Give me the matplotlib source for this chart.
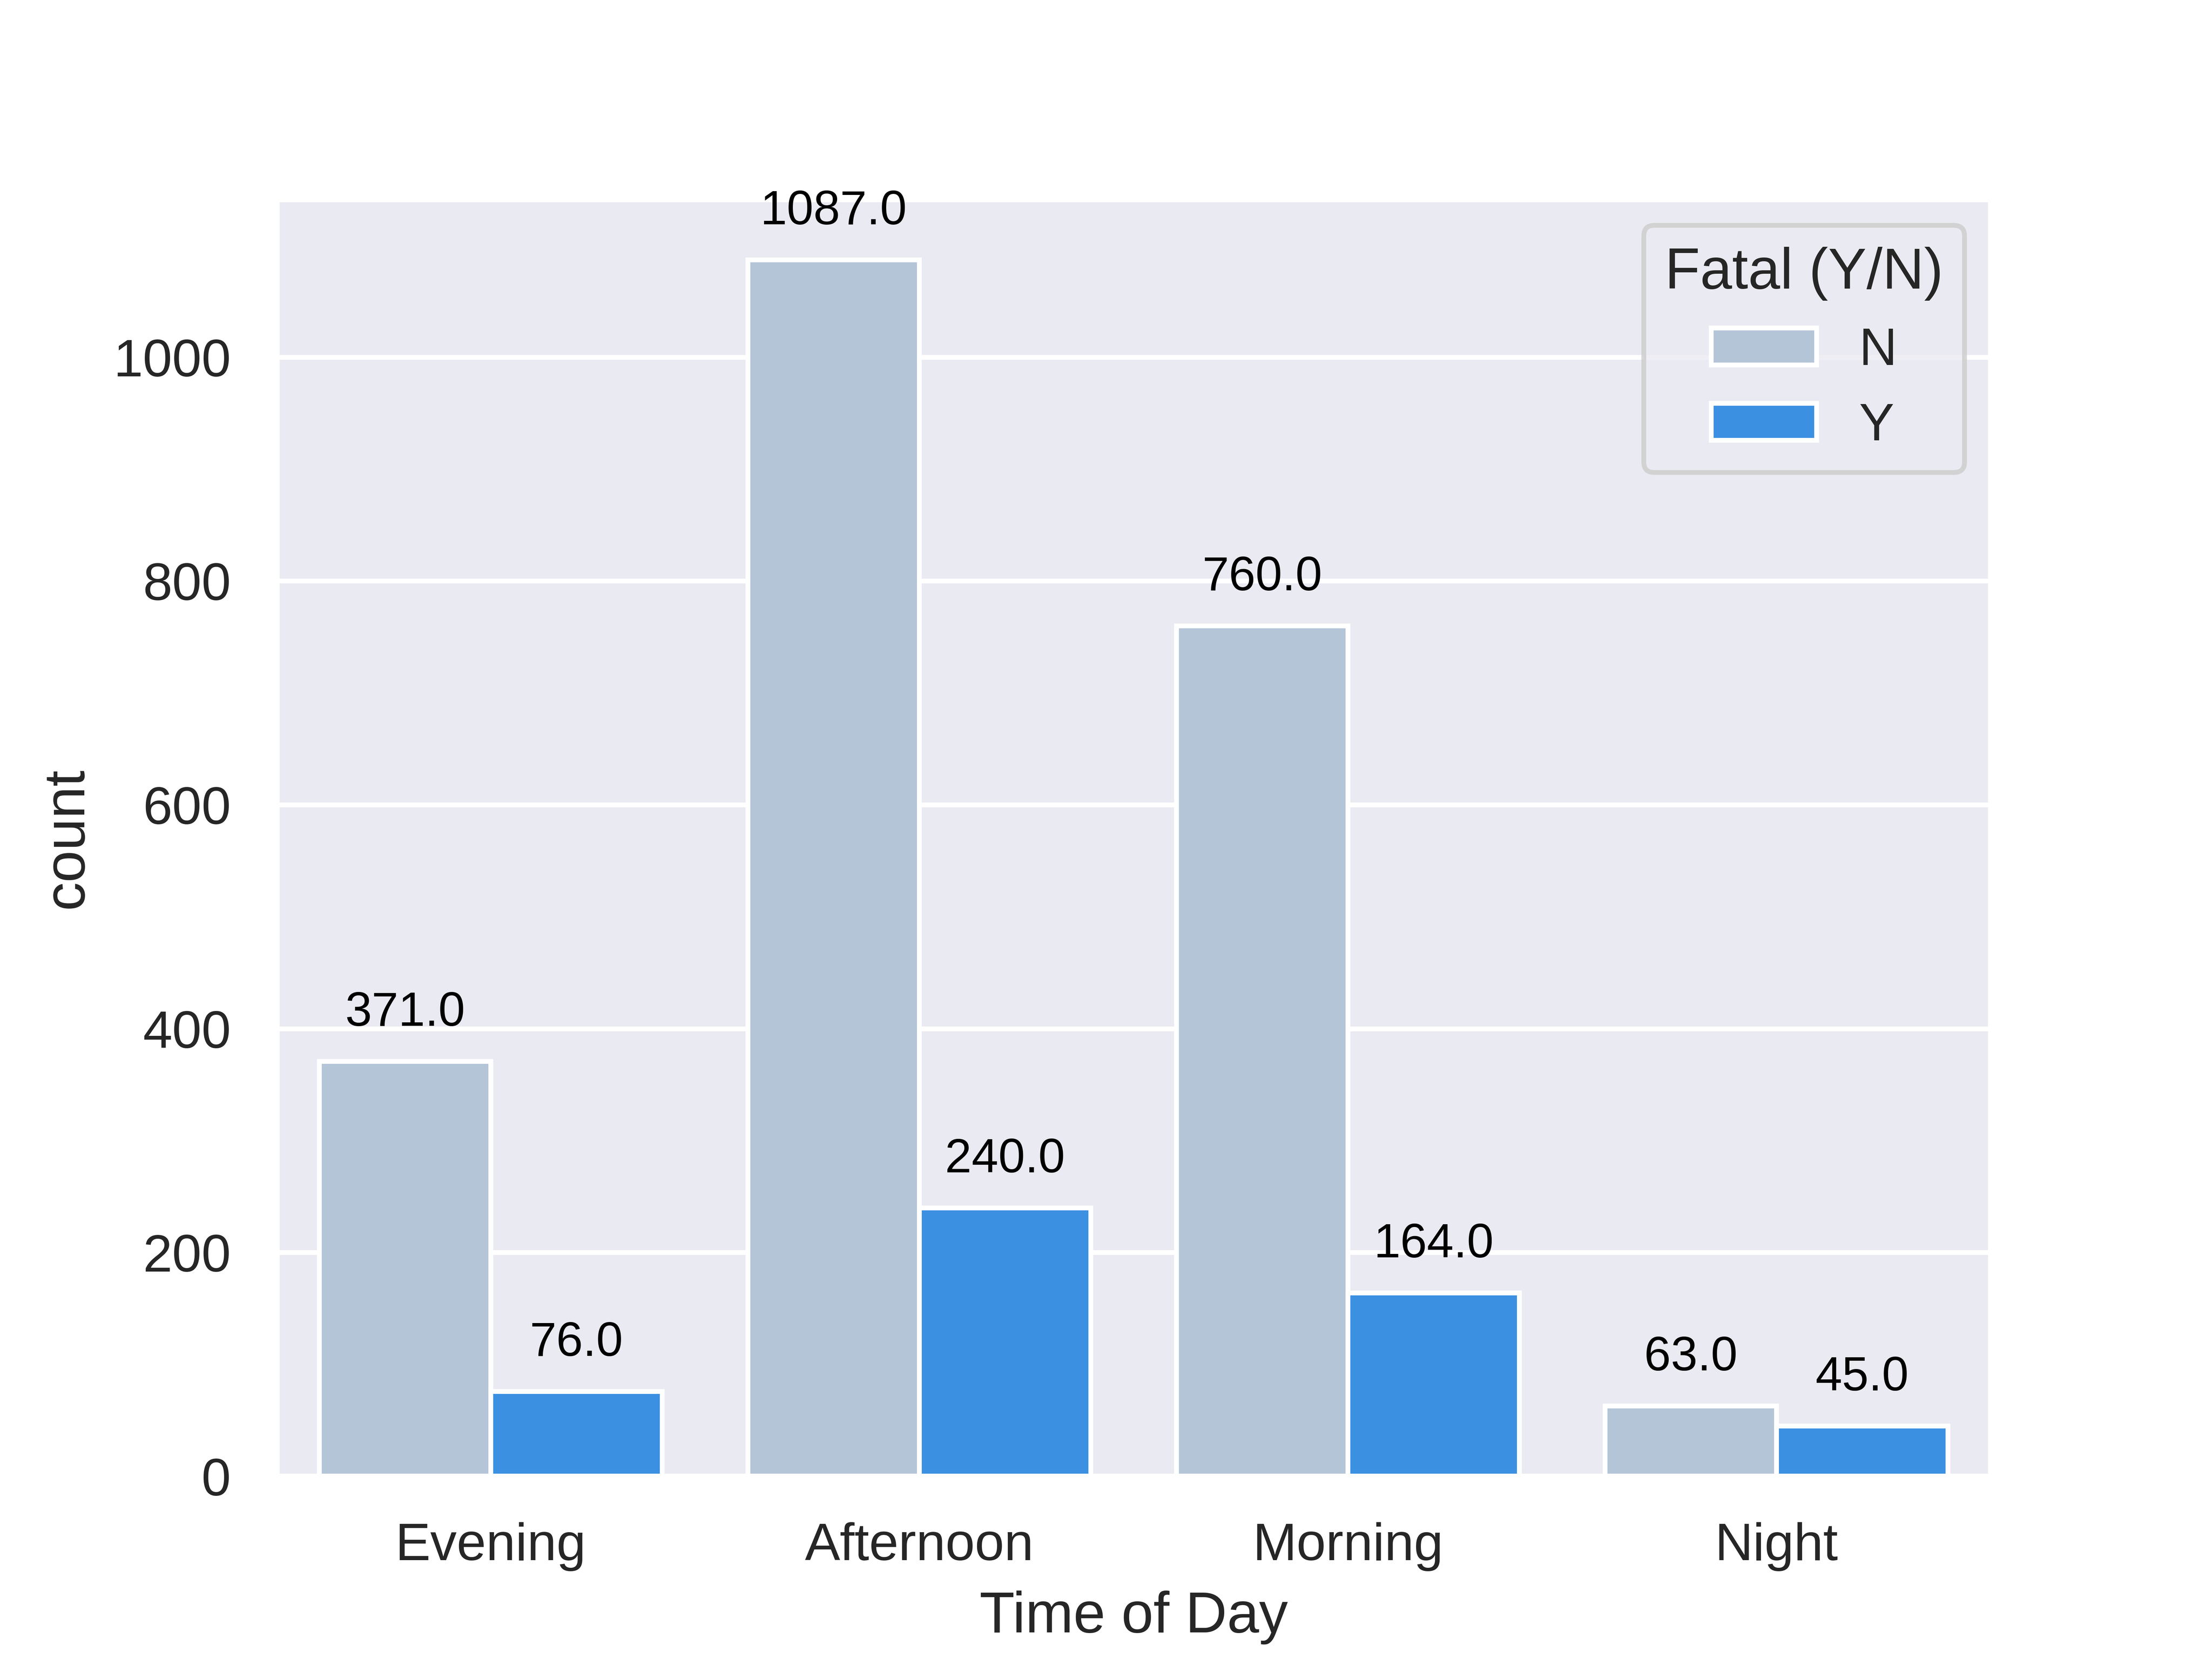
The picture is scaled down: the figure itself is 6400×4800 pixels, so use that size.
import matplotlib
matplotlib.use("Agg")
import matplotlib.pyplot as plt
import numpy as np
import seaborn as sns

times = ["Evening", "Afternoon", "Morning", "Night"]
fatal_n = [371, 1087, 760, 63]
fatal_y = [76, 240, 164, 45]
hue_labels = ["N", "Y"]

sns.set_theme(style="darkgrid", context="notebook")
plt.rcParams["font.family"] = ["Liberation Sans", "DejaVu Sans"]

fig, ax = plt.subplots(figsize=(6.4, 4.8))
x = np.arange(len(times))
w = 0.4
# seaborn-desaturated lightsteelblue / dodgerblue
bars_n = ax.bar(x - w / 2, fatal_n, w, color="#b5c5d8", edgecolor="white", linewidth=1, label=hue_labels[0])
bars_y = ax.bar(x + w / 2, fatal_y, w, color="#3c90e2", edgecolor="white", linewidth=1, label=hue_labels[1])

for p in list(bars_n) + list(bars_y):
    h = p.get_height()
    ax.annotate(f"{float(h):.1f}", (p.get_x() + p.get_width() / 2, h),
                xytext=(0, 10), textcoords="offset points",
                ha="center", va="center", fontsize=10, color="black")

ax.set_xticks(x)
ax.set_xticklabels(times)
ax.set_xlim(-0.5, len(times) - 0.5)
ax.xaxis.grid(False)
ax.set_xlabel("Time of Day")
ax.set_ylabel("count")
ax.legend(title="Fatal (Y/N)", loc="upper right")

fig.savefig("out.png", dpi=1000)
